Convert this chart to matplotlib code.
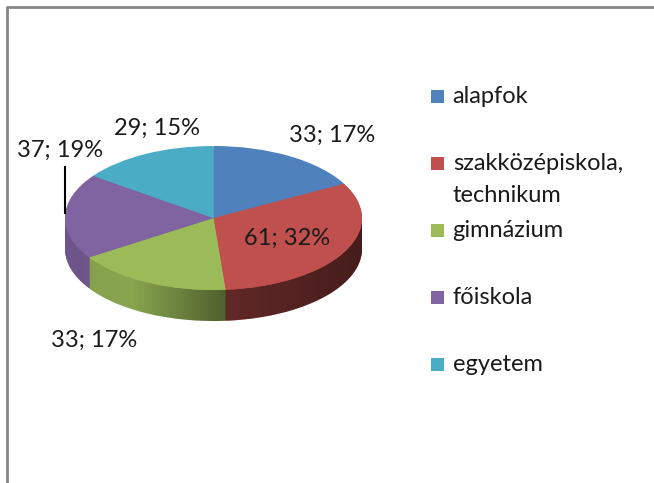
import textwrap
import numpy as np
import matplotlib.pyplot as plt
from matplotlib.patches import Polygon, Rectangle
from matplotlib.lines import Line2D

categories = ["alapfok", "szakközépiskola, technikum", "gimnázium", "főiskola", "egyetem"]
values = [33, 61, 33, 37, 29]
colors = ["#4F81BD", "#C0504D", "#9BBB59", "#8064A2", "#4BACC6"]

# label positions in picture pixels (x, y from top-left)
label_pos = [(332, 135), (287, 238), (94, 340), (60, 150), (157, 128)]

plt.rcParams['font.family'] = ['Lato', 'DejaVu Sans']

W, H = 654, 483
cx, cy, rx, ry = 213.5, 218, 148.5, 72
depth = 31 / ry


def px(x, y):
    return ((x - cx) / rx, (cy - y) / ry)


fig = plt.figure(figsize=(W / 100, H / 100), dpi=100)
ax = fig.add_axes([0, 0, 1, 1])

# side of the 3d pie: stacked pies shifted down
n_layers = 31
for k in range(n_layers, 0, -1):
    d = depth * k / n_layers
    ax.pie(values, colors=colors, startangle=90, counterclock=False,
           center=(0, -d), wedgeprops=dict(linewidth=0, zorder=1))

# shading of the side, darker to the right
t = np.linspace(np.pi, 2 * np.pi, 200)
top_arc = np.column_stack([np.cos(t), np.sin(t)])
bot_arc = np.column_stack([np.cos(t), np.sin(t) - depth])[::-1]
side = Polygon(np.vstack([top_arc, bot_arc]), closed=True, facecolor='none',
               edgecolor='none', transform=ax.transData)
ax.add_patch(side)
xs = np.linspace(-1, 1, 256)
light = np.interp(xs, [-1, -0.55, 0.1, 1], [0.85, 0.88, 0.5, 0.36])
shade = np.zeros((1, 256, 4))
shade[..., 3] = 1 - light
im = ax.imshow(shade, extent=(-1, 1, -1 - depth, 0), aspect='auto',
               interpolation='bilinear', zorder=1.5)
im.set_clip_path(side)

# top face
ax.pie(values, colors=colors, startangle=90, counterclock=False,
       center=(0, 0), wedgeprops=dict(linewidth=0, zorder=2))

ax.set_aspect('auto')
ax.set_xlim(-cx / rx, (W - cx) / rx)
ax.set_ylim((cy - H) / ry, cy / ry)
ax.axis('off')

total = sum(values)
for v, (lx, ly) in zip(values, label_pos):
    ax.text(*px(lx, ly), f"{v}; {round(100 * v / total)}%", fontsize=17,
            ha='center', va='center', color='#1a1a1a', zorder=5)

# leader line for főiskola
ax.plot(*zip(px(65, 167), px(65, 213)), color='black', lw=1.5, zorder=5)

# legend
sq = 13.5
for i, (name, c) in enumerate(zip(categories, colors)):
    y = 96.7 + i * 67
    ax.add_patch(Rectangle(px(430.7, y + sq / 2), sq / rx, sq / ry,
                           facecolor=c, edgecolor='none', zorder=5))
    for j, line in enumerate(textwrap.wrap(name, 17)):
        ax.text(*px(452.7, y + j * 32), line, fontsize=17, ha='left',
                va='center', color='#1a1a1a', zorder=5)

# chart frame (only top and left edges are visible)
fig.add_artist(Line2D([6.5 / W, 6.5 / W, 1], [0, 1 - 7 / H, 1 - 7 / H],
                      color='#868686', lw=2, transform=fig.transFigure))

fig.savefig("out.png", dpi=100)
